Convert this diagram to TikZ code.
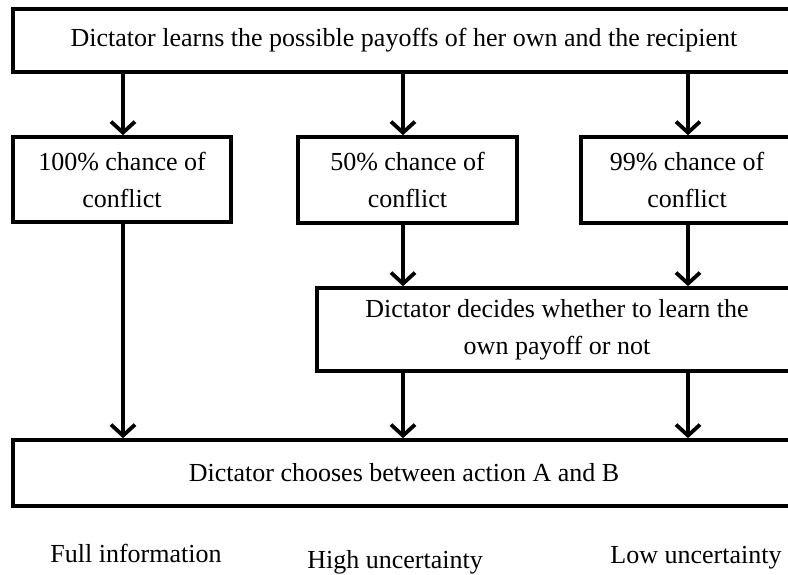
\documentclass[tikz,border=0pt]{standalone}
\usepackage{fontspec}
\setmainfont{Liberation Serif}
\usetikzlibrary{arrows.meta}
\begin{document}
\begin{tikzpicture}[x=1pt,y=-1pt,
  box/.style={draw=black,line width=3.6pt,rectangle,inner sep=0pt,align=center,
    font=\fontsize{26}{37}\selectfont,text=black},
  lbl/.style={font=\fontsize{26}{32}\selectfont,text=black,inner sep=0pt},
  arr/.style={line width=3.6pt,-{Straight Barb[length=11pt,width=24pt,line width=3.8pt]}}]
\useasboundingbox (0,0) rectangle (788,575);
\clip (0,0) rectangle (788,575);
\node[box,minimum width=782pt,minimum height=63pt] (top) at (404,40.5)
  {Dictator learns the possible payoffs of her own and the recipient};
\node[box,minimum width=218pt,minimum height=85pt] (left) at (122,179.5)
  {100\% chance of\\conflict};
\node[box,minimum width=219pt,minimum height=86pt] (mid) at (407.5,180)
  {50\% chance of\\conflict};
\node[box,minimum width=212pt,minimum height=86pt] (right) at (687,180)
  {99\% chance of\\conflict};
\node[box,minimum width=480pt,minimum height=83pt] (dec) at (557,329.5)
  {Dictator decides whether to learn the\\own payoff or not};
\node[box,minimum width=782pt,minimum height=66pt] (bot) at (404,473)
  {Dictator chooses between action A and B};
\node[lbl] (l1) at (136,553) {Full information};
\node[lbl] (l2) at (395,562) {High uncertainty};
\node[lbl] (l3) at (696,558) {Low uncertainty};
\coordinate (xA) at (123,0);
\coordinate (xB) at (403,0);
\coordinate (xC) at (688,0);
\draw[arr] (top.south -| xA) -- (left.north -| xA);
\draw[arr] (top.south -| xB) -- (mid.north -| xB);
\draw[arr] (top.south -| xC) -- (right.north -| xC);
\draw[arr] (mid.south -| xB) -- (dec.north -| xB);
\draw[arr] (right.south -| xC) -- (dec.north -| xC);
\draw[arr] (left.south -| xA) -- (bot.north -| xA);
\draw[arr] (dec.south -| xB) -- (bot.north -| xB);
\draw[arr] (dec.south -| xC) -- (bot.north -| xC);
\end{tikzpicture}
\end{document}
